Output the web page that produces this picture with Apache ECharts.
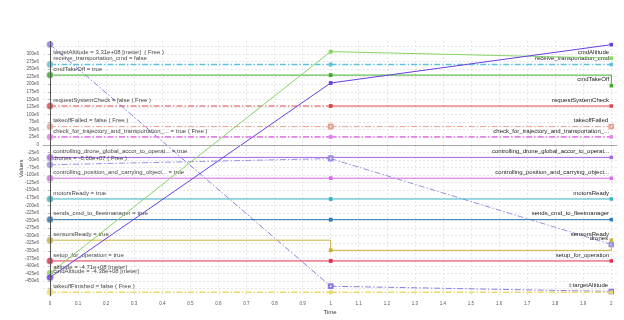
<!DOCTYPE html>
<html><head><meta charset="utf-8">
<script src="https://cdn.jsdelivr.net/npm/echarts@6/dist/echarts.min.js"></script>
<style>html,body{margin:0;padding:0;background:#fff}#c{width:624px;height:320px}</style>
</head><body><div id="c"></div>
<script>
// ---- data ----
const times = [0, 1, 2];
const xTickValues = [0, 0.1, 0.2, 0.3, 0.4, 0.5, 0.6, 0.7, 0.8, 0.9, 1, 1.1, 1.2, 1.3, 1.4, 1.5, 1.6, 1.7, 1.8, 1.9, 2];
const yTickValues = [300e6, 275e6, 250e6, 225e6, 200e6, 175e6, 150e6, 125e6, 100e6, 75e6, 50e6, 25e6, 0,
  -25e6, -50e6, -75e6, -100e6, -125e6, -150e6, -175e6, -200e6, -225e6, -250e6, -275e6, -300e6,
  -325e6, -350e6, -375e6, -400e6, -425e6, -450e6];
const ySplitValues = [325e6].concat(yTickValues, [-475e6]);

const targetAltitude           = [331e6, -467e6, -484e6];
const receiveTransportationCmd = [265e6, 265e6, 265e6];
const cmdTakeOff               = [230e6, 230e6, 195e6];
const requestSystemCheck       = [128e6, 128e6, 128e6];
const takeoffFailed            = [60e6, 60e6, 60e6];
const checkForTrajectory       = [26e6, 26e6, 26e6];
const controllingDroneGlobal   = [-41.6e6, -41.6e6, -41.6e6];
const drones                   = [-66e6, -45.5e6, -329e6];
const controllingPosition      = [-110.4e6, -110.4e6, -110.4e6];
const motorsReady              = [-179e6, -179e6, -179e6];
const sendsCmdToFleetmanager   = [-247e6, -247e6, -247e6];
const sensorsReady             = [-315e6, -348.5e6, -315e6];
const setupForOperation        = [-383.5e6, -383.5e6, -383.5e6];
const altitude                 = [-424e6, 307.5e6, 286e6];
const cmdAltitude              = [-438e6, 204e6, 330.5e6];
const takeoffFinished          = [-487e6, -487e6, -487e6];

const leftLabels = {
  targetAltitude: 'targetAltitude = 3.31e+08 [meter]  ( Free )',
  receiveTransportationCmd: 'receive_transportation_cmd = false',
  cmdTakeOff: 'cmdTakeOff = true',
  requestSystemCheck: 'requestSystemCheck = false ( Free )',
  takeoffFailed: 'takeoffFailed = false ( Free )',
  checkForTrajectory: 'check_for_trajectory_and_transportation_... = true ( Free )',
  controllingDroneGlobal: 'controlling_drone_global_accor_to_operat... = true',
  drones: 'drones = -6.60e+07 ( Free )',
  controllingPosition: 'controlling_position_and_carrying_object... = true',
  motorsReady: 'motorsReady = true',
  sendsCmdToFleetmanager: 'sends_cmd_to_fleetmanager = true',
  sensorsReady: 'sensorsReady = true',
  setupForOperation: 'setup_for_operation = true',
  altitude: 'altitude = -4.71e+08 [meter]',
  cmdAltitude: 'cmdAltitude = -4.38e+08 [meter]',
  takeoffFinished: 'takeoffFinished = false ( Free )'
};
const rightLabels = {
  targetAltitude: 't:targetAltitude',
  receiveTransportationCmd: 'receive_transportation_cmd',
  cmdTakeOff: 'cmdTakeOff',
  requestSystemCheck: 'requestSystemCheck',
  takeoffFailed: 'takeoffFailed',
  checkForTrajectory: 'check_for_trajectory_and_transportation_...',
  controllingDroneGlobal: 'controlling_drone_global_accor_to_operat...',
  drones: 'drones',
  controllingPosition: 'controlling_position_and_carrying_object...',
  motorsReady: 'motorsReady',
  sendsCmdToFleetmanager: 'sends_cmd_to_fleetmanager',
  sensorsReady: 'sensorsReady',
  setupForOperation: 'setup_for_operation',
  cmdAltitude: 'cmdAltitude'
};

const signals = {
  targetAltitude, receiveTransportationCmd, cmdTakeOff, requestSystemCheck, takeoffFailed,
  checkForTrajectory, controllingDroneGlobal, drones, controllingPosition, motorsReady,
  sendsCmdToFleetmanager, sensorsReady, setupForOperation, altitude, cmdAltitude, takeoffFinished
};

// ---- styles ----
const DD = 'dashdot';
const look = {
  targetAltitude:           {color: '#8a7ee2', segs: [DD, DD], end: 'emptyRect', leftDy: 8},
  receiveTransportationCmd: {color: '#5ec2de', segs: [DD, DD], width: 1.3},
  cmdTakeOff:               {color: '#3fae2e', step: true},
  requestSystemCheck:       {color: '#dd4848', segs: [DD, 'solid']},
  takeoffFailed:            {color: '#e6a191', segs: [DD, DD], end: 'emptyRect'},
  checkForTrajectory:       {color: '#e483e6', segs: [DD, DD], width: 1.6},
  controllingDroneGlobal:   {color: '#a764e6'},
  drones:                   {color: '#9a90e2', segs: [DD, DD], end: 'emptyRect'},
  controllingPosition:      {color: '#d66ee6'},
  motorsReady:              {color: '#3cb5c6'},
  sendsCmdToFleetmanager:   {color: '#2f7db8'},
  sensorsReady:             {color: '#c9b23e', step: true},
  setupForOperation:        {color: '#e2304e'},
  altitude:                 {color: '#86d466'},
  cmdAltitude:              {color: '#6a3fe0', rightDy: 8},
  takeoffFinished:          {color: '#ecd96e', segs: [DD, DD], width: 1.5}
};
const FONT = "'Liberation Sans', Arial, sans-serif";

const series = [];
Object.keys(signals).forEach((key, k) => {
  const vals = signals[key];
  const st = look[key];
  const n = times.length;
  for (let i = 0; i < n - 1; i++) {
    const segType = (st.segs || ['solid', 'solid'])[i];
    const data = [i, i + 1].map(j => {
      const item = {value: [times[j], vals[j]]};
      if (j === 0) {
        item.symbol = 'circle';
        item.symbolSize = 7;
        item.itemStyle = {color: st.color, borderColor: 'rgba(255,255,255,0.5)', borderWidth: 1, opacity: 0.85};
        item.label = {show: true, position: 'right', distance: 0, offset: [-0.8, st.leftDy != null ? st.leftDy : -6],
          formatter: leftLabels[key]};
      } else {
        item.symbol = st.end || 'rect';
        item.symbolSize = 3.5;
        if (j === n - 1 && rightLabels[key]) {
          item.label = {show: true, position: 'left', distance: 0, offset: [-0.5, st.rightDy != null ? st.rightDy : -6],
            formatter: rightLabels[key]};
        }
      }
      return item;
    });
    const s = {
      type: 'line', name: key + '_' + i, data,
      step: st.step ? 'end' : false,
      showSymbol: true,
      lineStyle: {color: st.color, width: st.width || 1, type: segType === DD ? [6, 2, 1.5, 2] : 'solid'},
      itemStyle: {color: st.color},
      label: {show: false, fontSize: 6, color: '#222', fontFamily: FONT},
      emphasis: {disabled: true},
      silent: true,
      z: 3 + k * 0.01
    };
    if (k === 0 && i === 0) {
      s.markLine = {
        silent: true, symbol: 'none', label: {show: false}, animation: false,
        data: [
          {yAxis: 0, lineStyle: {color: '#a8a8a8', width: 1, type: 'solid'}},
          {xAxis: 0, lineStyle: {color: '#555', width: 1, type: 'solid'}}
        ]
      };
    }
    series.push(s);
  }
});

const chart = echarts.init(document.getElementById('c'), null, {renderer: 'canvas'});
chart.setOption({
  animation: false,
  backgroundColor: '#fff',
  grid: {left: 43, right: 7, top: 41, bottom: 22, containLabel: false},
  xAxis: {
    type: 'value', min: -0.02494, max: 2.0203,
    name: 'Time', nameLocation: 'middle', nameGap: 13, nameMoveOverlap: false,
    nameTextStyle: {fontSize: 6, color: '#333', fontFamily: FONT},
    axisLine: {show: true, lineStyle: {color: '#c8c8c8'}},
    axisTick: {show: true, length: 2, customValues: xTickValues, lineStyle: {color: '#c8c8c8'}},
    axisLabel: {fontSize: 4.5, color: '#555', margin: 5, fontFamily: FONT, customValues: xTickValues,
      formatter: v => String(Math.round(v * 10) / 10)},
    splitLine: {show: true, customValues: xTickValues, lineStyle: {color: '#e6e6e6', type: [2, 2], width: 1}}
  },
  yAxis: {
    type: 'value', min: -499.2e6, max: 342.6e6,
    name: 'Values', nameLocation: 'middle', nameGap: 19, nameRotate: 90, nameMoveOverlap: false,
    nameTextStyle: {fontSize: 6, color: '#333', fontFamily: FONT},
    axisLine: {show: true, lineStyle: {color: '#999', type: [2, 1]}},
    axisTick: {show: true, length: 2, customValues: ySplitValues, lineStyle: {color: '#bbb'}},
    axisLabel: {fontSize: 4.5, color: '#555', margin: 4, fontFamily: FONT, customValues: yTickValues,
      formatter: v => v === 0 ? '0' : Math.round(v / 1e6) + 'e6'},
    splitLine: {show: true, customValues: ySplitValues, lineStyle: {color: '#e6e6e6', type: [2, 2], width: 1}}
  },
  series
});
</script>
</body></html>
